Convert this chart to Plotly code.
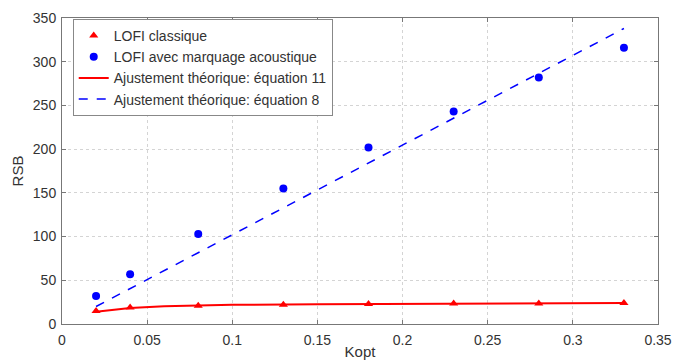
import plotly.graph_objects as go

kopt = [0.02, 0.04, 0.08, 0.13, 0.18, 0.23, 0.28, 0.33]
rsb_classique = [15, 19, 21, 22, 23, 23.5, 23.5, 24]
rsb_marquage = [32, 57, 103, 155, 202, 243, 282, 316]

fit11_x = [0.02, 0.03, 0.04, 0.06, 0.08, 0.10, 0.15, 0.20, 0.25, 0.30, 0.33]
fit11_y = [14, 16.5, 18.2, 20.2, 21.3, 21.9, 22.7, 23.2, 23.5, 23.8, 24]

fit8_x = [0.02, 0.33]
fit8_y = [20, 338]

family = "Liberation Sans, Arial, sans-serif"
tickfont = dict(family=family, size=14, color="#333")
titlefont = dict(family=family, size=15, color="#333")

fig = go.Figure()
fig.add_trace(go.Scatter(x=kopt, y=rsb_classique, mode="markers",
                         marker=dict(symbol="triangle-up", size=8, color="#ff0000"),
                         name="LOFI classique"))
fig.add_trace(go.Scatter(x=kopt, y=rsb_marquage, mode="markers",
                         marker=dict(symbol="circle", size=8, color="#0000ff"),
                         name="LOFI avec marquage acoustique"))
fig.add_trace(go.Scatter(x=fit11_x, y=fit11_y, mode="lines",
                         line=dict(color="#ff0000", width=2),
                         name="Ajustement théorique: équation 11"))
fig.add_trace(go.Scatter(x=fit8_x, y=fit8_y, mode="lines",
                         line=dict(color="#0000ff", width=1.5, dash="dash"),
                         name="Ajustement théorique: équation 8"))

axis_common = dict(showline=True, linecolor="#777", linewidth=1, mirror="ticks",
                   ticks="inside", ticklen=4, tickcolor="#777",
                   showgrid=True, gridcolor="#d4d4d4", griddash="dot", gridwidth=1,
                   zeroline=False, tickfont=tickfont, automargin=False)

fig.update_layout(
    width=673, height=360,
    margin=dict(l=62, r=15, t=18, b=36),
    paper_bgcolor="white", plot_bgcolor="white",
    font=tickfont,
    showlegend=True,
    legend=dict(x=0.018, y=0.997, xanchor="left", yanchor="top",
                bgcolor="white", bordercolor="#888", borderwidth=1,
                font=dict(family=family, size=14, color="#333"),
                itemwidth=30, tracegroupgap=0),
    xaxis=dict(range=[0, 0.35], dtick=0.05, ticklabelstandoff=3,
               title=dict(text="Kopt", standoff=1, font=titlefont), **axis_common),
    yaxis=dict(range=[0, 350], dtick=50, ticklabelstandoff=2,
               title=dict(text="RSB", standoff=5, font=titlefont), **axis_common),
)

fig.write_html("out.html")
